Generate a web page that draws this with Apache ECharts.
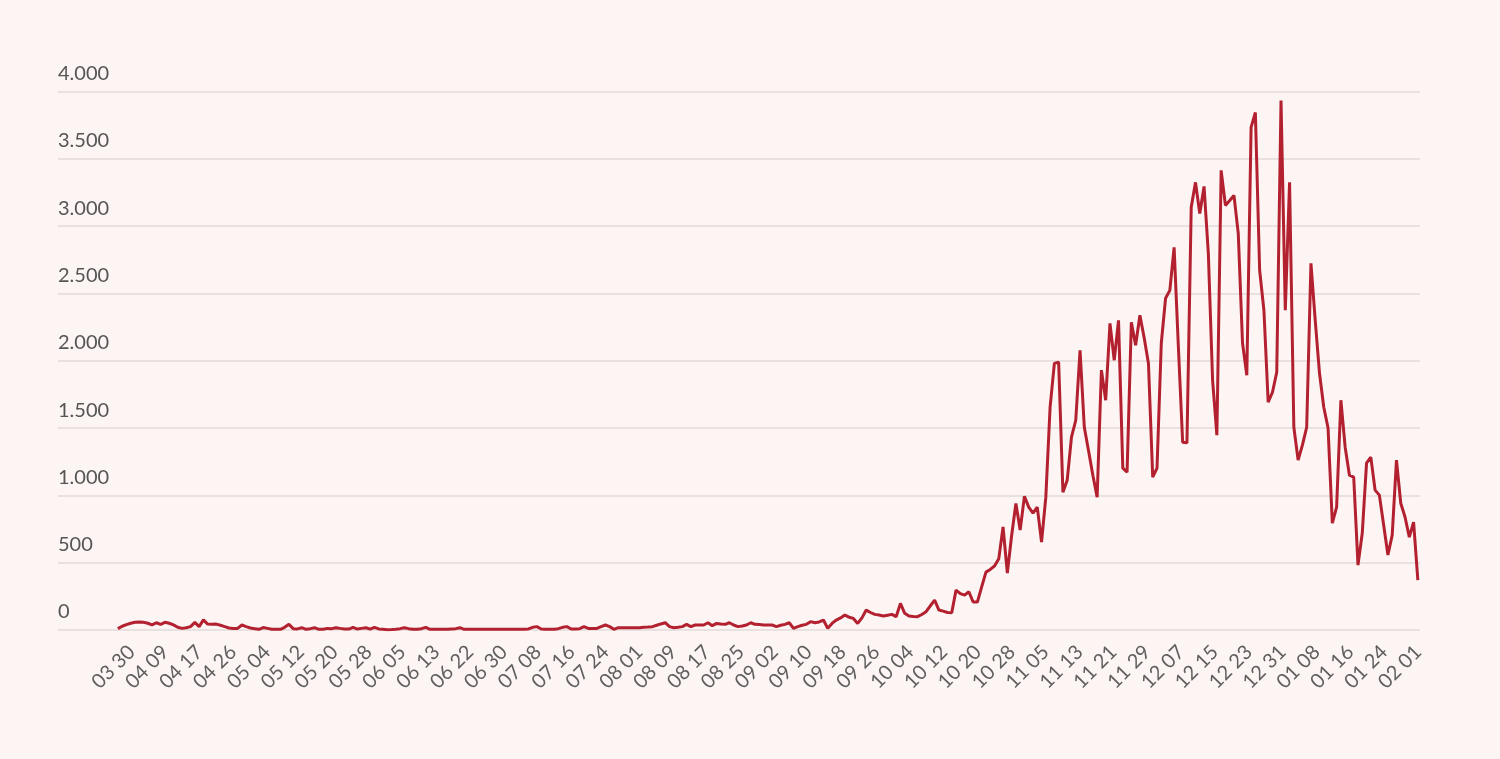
<!DOCTYPE html>
<html>
<head>
<meta charset="utf-8">
<script src="https://cdn.jsdelivr.net/npm/echarts@6.0.0/dist/echarts.min.js"></script>
<style>
  html, body { margin: 0; padding: 0; background: #fdf5f3; }
  #main { width: 1500px; height: 759px; }
</style>
</head>
<body>
<div id="main"></div>
<script>
// labels shown every 8th day on the x axis
const tickLabels = [
  '03 30', '04 09', '04 17', '04 26', '05 04', '05 12', '05 20', '05 28',
  '06 05', '06 13', '06 22', '06 30', '07 08', '07 16', '07 24', '08 01',
  '08 09', '08 17', '08 25', '09 02', '09 10', '09 18', '09 26', '10 04',
  '10 12', '10 20', '10 28', '11 05', '11 13', '11 21', '11 29', '12 07',
  '12 15', '12 23', '12 31', '01 08', '01 16', '01 24', '02 01'
];

// daily values, one per day from 03 30 to 02 01
const dailyCases = [
  10, 28, 40, 50, 57, 59, 57, 50, 38, 54, 42, 57, 50, 38, 20, 12, 17, 25, 57, 25,
  75, 44, 42, 44, 35, 25, 15, 12, 12, 37, 25, 15, 10, 5, 18, 12, 5, 5, 5, 20,
  42, 10, 8, 17, 5, 10, 17, 5, 5, 12, 10, 17, 12, 8, 7, 20, 7, 12, 17, 7,
  20, 8, 5, 2, 3, 5, 10, 17, 10, 5, 5, 10, 20, 5, 5, 5, 5, 5, 8, 10,
  17, 5, 5, 5, 5, 5, 5, 5, 5, 5, 5, 5, 5, 5, 5, 5, 8, 20, 25, 7,
  5, 5, 5, 10, 20, 25, 7, 7, 10, 25, 12, 12, 12, 25, 37, 25, 5, 17, 17, 17,
  17, 17, 17, 20, 22, 25, 35, 45, 54, 25, 17, 20, 25, 42, 25, 37, 37, 37, 54, 32,
  49, 45, 42, 54, 37, 25, 30, 37, 54, 42, 40, 37, 37, 37, 25, 35, 42, 54, 12, 25,
  35, 42, 62, 54, 60, 74, 12, 49, 74, 90, 111, 95, 86, 49, 90, 148, 130, 116, 111, 104,
  110, 116, 99, 198, 124, 104, 100, 99, 115, 136, 180, 222, 148, 140, 130, 128, 296, 270, 259, 284,
  208, 208, 320, 430, 450, 475, 530, 765, 423, 700, 940, 742, 994, 913, 868, 913, 653, 987, 1655, 1980,
  1990, 1024, 1113, 1432, 1558, 2078, 1506, 1330, 1150, 987, 1930, 1707, 2278, 2004, 2300, 1202, 1173, 2286, 2115, 2338,
  2170, 1980, 1135, 1202, 2130, 2464, 2523, 2842, 2100, 1395, 1390, 3140, 3325, 3094, 3295, 2800, 1855, 1447, 3414, 3154,
  3190, 3228, 2946, 2130, 1892, 3733, 3844, 2672, 2375, 1692, 1766, 1915, 3933, 2375, 3325, 1506, 1262, 1373, 1506, 2724,
  2300, 1907, 1655, 1500, 794, 913, 1707, 1358, 1150, 1135, 482, 720, 1240, 1284, 1039, 1002, 780, 557, 705, 1262,
  942, 839, 690, 801, 371
];

const yTicks = [0, 500, 1000, 1500, 2000, 2500, 3000, 3500, 4000];

// where the rotated date labels sit along the day axis
const labelStart = -1.05;
const labelStep = 7.917;

let chartDom = document.getElementById('main');
let myChart = echarts.init(chartDom);

let option = {
  backgroundColor: '#fdf5f3',
  animation: false,
  grid: { left: 58, right: 80, top: 91.5, bottom: 129 },
  xAxis: {
    type: 'value',
    min: -14,
    max: 304.5,
    axisLine: { show: false },
    axisTick: { show: false },
    splitLine: { show: false },
    axisLabel: {
      customValues: tickLabels.map((_, k) => labelStart + k * labelStep),
      formatter: v => tickLabels[Math.round((v - labelStart) / labelStep)],
      rotate: 45,
      align: 'center',
      verticalAlign: 'middle',
      margin: 37,
      color: '#5f5f5f',
      fontFamily: 'Lato',
      fontSize: 20
    }
  },
  yAxis: {
    type: 'value',
    min: yTicks[0],
    max: yTicks[yTicks.length - 1],
    interval: 500,
    axisLine: { show: false },
    axisTick: { show: false },
    splitLine: { lineStyle: { color: '#e2dad8', width: 1.5 } },
    axisLabel: {
      inside: true,
      margin: 0,
      align: 'left',
      verticalAlign: 'bottom',
      padding: [0, 0, 8, 0],
      color: '#555',
      fontFamily: 'Lato',
      fontSize: 20,
      formatter: v => v >= 1000 ? Math.floor(v / 1000) + '.' + String(v % 1000).padStart(3, '0') : String(v)
    }
  },
  series: [
    {
      type: 'line',
      data: dailyCases.map((v, i) => [i, v]),
      showSymbol: false,
      lineStyle: { color: '#b3202f', width: 3 },
      itemStyle: { color: '#b3202f' }
    }
  ]
};

myChart.setOption(option);
</script>
</body>
</html>
